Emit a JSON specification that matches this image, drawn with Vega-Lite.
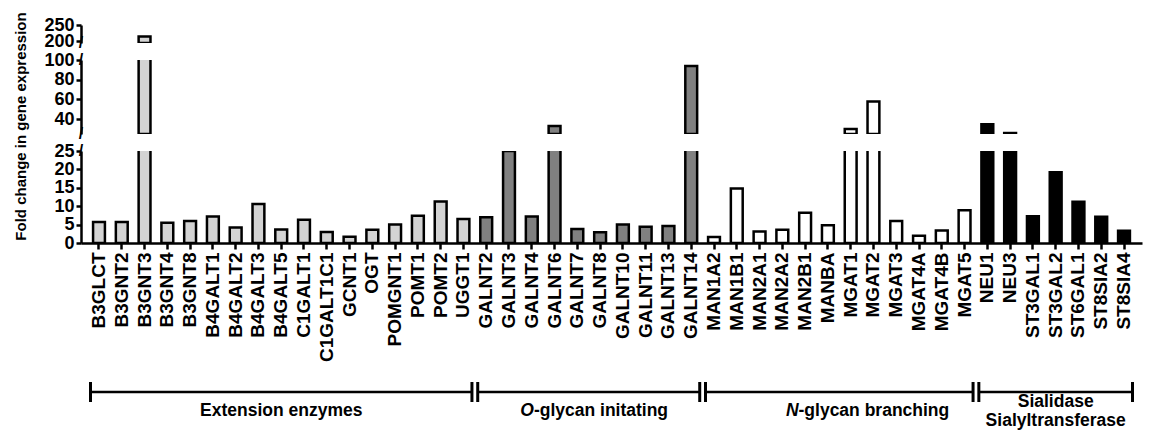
{
  "$schema": "https://vega.github.io/schema/vega-lite/v6.json",
  "padding": {"left": 13, "top": 11, "right": 5, "bottom": 0},
  "background": "white",
  "config": {
    "view": {"stroke": null},
    "axis": {
      "domainColor": "black", "domainWidth": 2.5, "tickColor": "black", "tickWidth": 2.5,
      "labelColor": "black", "labelFont": "Liberation Sans", "labelFontWeight": "bold", "labelFontSize": 18,
      "titleFont": "Liberation Sans", "titleFontWeight": "bold", "titleColor": "black", "grid": false,
      "tickSize": 5, "labelPadding": 2, "labelOverlap": false
    },
    "text": {"font": "Liberation Sans", "fontWeight": "bold", "color": "black", "fontSize": 17.5}
  },
  "datasets": {
    "genes": [
      {"gene": "B3GLCT", "group": "Extension", "value": 5.7},
      {"gene": "B3GNT2", "group": "Extension", "value": 5.7},
      {"gene": "B3GNT3", "group": "Extension", "value": 215},
      {"gene": "B3GNT4", "group": "Extension", "value": 5.5},
      {"gene": "B3GNT8", "group": "Extension", "value": 6.0},
      {"gene": "B4GALT1", "group": "Extension", "value": 7.2},
      {"gene": "B4GALT2", "group": "Extension", "value": 4.2},
      {"gene": "B4GALT3", "group": "Extension", "value": 10.6},
      {"gene": "B4GALT5", "group": "Extension", "value": 3.7},
      {"gene": "C1GALT1", "group": "Extension", "value": 6.3},
      {"gene": "C1GALT1C1", "group": "Extension", "value": 3.0},
      {"gene": "GCNT1", "group": "Extension", "value": 1.7},
      {"gene": "OGT", "group": "Extension", "value": 3.6},
      {"gene": "POMGNT1", "group": "Extension", "value": 5.0},
      {"gene": "POMT1", "group": "Extension", "value": 7.4},
      {"gene": "POMT2", "group": "Extension", "value": 11.3},
      {"gene": "UGGT1", "group": "Extension", "value": 6.5},
      {"gene": "GALNT2", "group": "O-glycan", "value": 7.0},
      {"gene": "GALNT3", "group": "O-glycan", "value": 25},
      {"gene": "GALNT4", "group": "O-glycan", "value": 7.2},
      {"gene": "GALNT6", "group": "O-glycan", "value": 33},
      {"gene": "GALNT7", "group": "O-glycan", "value": 3.8},
      {"gene": "GALNT8", "group": "O-glycan", "value": 2.9},
      {"gene": "GALNT10", "group": "O-glycan", "value": 5.0},
      {"gene": "GALNT11", "group": "O-glycan", "value": 4.4},
      {"gene": "GALNT13", "group": "O-glycan", "value": 4.6},
      {"gene": "GALNT14", "group": "O-glycan", "value": 94},
      {"gene": "MAN1A2", "group": "N-glycan", "value": 1.6},
      {"gene": "MAN1B1", "group": "N-glycan", "value": 14.8},
      {"gene": "MAN2A1", "group": "N-glycan", "value": 3.1},
      {"gene": "MAN2A2", "group": "N-glycan", "value": 3.6},
      {"gene": "MAN2B1", "group": "N-glycan", "value": 8.2},
      {"gene": "MANBA", "group": "N-glycan", "value": 4.8},
      {"gene": "MGAT1", "group": "N-glycan", "value": 30},
      {"gene": "MGAT2", "group": "N-glycan", "value": 58},
      {"gene": "MGAT3", "group": "N-glycan", "value": 6.0},
      {"gene": "MGAT4A", "group": "N-glycan", "value": 2.0},
      {"gene": "MGAT4B", "group": "N-glycan", "value": 3.4},
      {"gene": "MGAT5", "group": "N-glycan", "value": 8.9},
      {"gene": "NEU1", "group": "Sialic", "value": 35},
      {"gene": "NEU3", "group": "Sialic", "value": 26},
      {"gene": "ST3GAL1", "group": "Sialic", "value": 7.3},
      {"gene": "ST3GAL2", "group": "Sialic", "value": 19.2},
      {"gene": "ST6GAL1", "group": "Sialic", "value": 11.2},
      {"gene": "ST8SIA2", "group": "Sialic", "value": 7.1},
      {"gene": "ST8SIA4", "group": "Sialic", "value": 3.3}
    ],
    "groups": [
      {"first": "B3GLCT", "last": "UGGT1"},
      {"first": "GALNT2", "last": "GALNT14"},
      {"first": "MAN1A2", "last": "MGAT5"},
      {"first": "NEU1", "last": "ST8SIA4"}
    ]
  },
  "bounds": "flush",
  "spacing": 17,
  "vconcat": [
    {
      "width": 1061, "height": 18,
      "layer": [
        {
          "data": {"name": "genes"},
          "transform": [{"filter": "datum.value > 195"}],
          "mark": {"type": "bar", "clip": true, "stroke": "black", "strokeWidth": 2.5},
          "encoding": {
            "x": {"field": "gene", "type": "nominal", "sort": null, "axis": null,
              "scale": {"domain": ["B3GLCT","B3GNT2","B3GNT3","B3GNT4","B3GNT8","B4GALT1","B4GALT2","B4GALT3","B4GALT5","C1GALT1","C1GALT1C1","GCNT1","OGT","POMGNT1","POMT1","POMT2","UGGT1","GALNT2","GALNT3","GALNT4","GALNT6","GALNT7","GALNT8","GALNT10","GALNT11","GALNT13","GALNT14","MAN1A2","MAN1B1","MAN2A1","MAN2A2","MAN2B1","MANBA","MGAT1","MGAT2","MGAT3","MGAT4A","MGAT4B","MGAT5","NEU1","NEU3","ST3GAL1","ST3GAL2","ST6GAL1","ST8SIA2","ST8SIA4"], "paddingInner": 0.48, "paddingOuter": 0.53}},
            "y": {"field": "value", "type": "quantitative", "stack": null,
              "scale": {"domain": [195, 250], "zero": false, "nice": false},
              "axis": {"values": [200, 250], "title": null, "labelOverlap": false}},
            "color": {"field": "group", "type": "nominal", "legend": null,
              "scale": {"domain": ["Extension", "O-glycan", "N-glycan", "Sialic"], "range": ["#d3d3d3", "#808080", "#ffffff", "#000000"]}}
          }
        },
        {
          "data": {"values": [{"g": "B3GLCT", "v": 195}]},
          "mark": {"type": "text", "text": "/", "fontSize": 16, "dx": -12, "align": "center", "baseline": "middle"},
          "encoding": {
            "x": {"field": "g", "type": "nominal", "bandPosition": 0, "axis": null},
            "y": {"field": "v", "type": "quantitative", "axis": {"values": [200, 250], "title": null, "labelOverlap": false}}
          }
        }
      ]
    },
    {
      "width": 1061, "height": 74,
      "layer": [
        {
          "data": {"name": "genes"},
          "transform": [{"filter": "datum.value > 25"}],
          "mark": {"type": "bar", "clip": true, "stroke": "black", "strokeWidth": 2.5},
          "encoding": {
            "x": {"field": "gene", "type": "nominal", "sort": null, "axis": null,
              "scale": {"domain": ["B3GLCT","B3GNT2","B3GNT3","B3GNT4","B3GNT8","B4GALT1","B4GALT2","B4GALT3","B4GALT5","C1GALT1","C1GALT1C1","GCNT1","OGT","POMGNT1","POMT1","POMT2","UGGT1","GALNT2","GALNT3","GALNT4","GALNT6","GALNT7","GALNT8","GALNT10","GALNT11","GALNT13","GALNT14","MAN1A2","MAN1B1","MAN2A1","MAN2A2","MAN2B1","MANBA","MGAT1","MGAT2","MGAT3","MGAT4A","MGAT4B","MGAT5","NEU1","NEU3","ST3GAL1","ST3GAL2","ST6GAL1","ST8SIA2","ST8SIA4"], "paddingInner": 0.48, "paddingOuter": 0.53}},
            "y": {"field": "value", "type": "quantitative", "stack": null,
              "scale": {"domain": [25, 100], "zero": false, "nice": false},
              "axis": {"values": [40, 60, 80, 100], "labelOverlap": false, "title": "Fold change in gene expression", "titleFontSize": 15, "titleY": 66, "titlePadding": 15.3}},
            "color": {"field": "group", "type": "nominal", "legend": null,
              "scale": {"domain": ["Extension", "O-glycan", "N-glycan", "Sialic"], "range": ["#d3d3d3", "#808080", "#ffffff", "#000000"]}}
          }
        },
        {
          "data": {"values": [{"g": "B3GLCT", "v": 25}, {"g": "B3GLCT", "v": 100}]},
          "mark": {"type": "text", "text": "/", "fontSize": 16, "dx": -12, "align": "center", "baseline": "middle"},
          "encoding": {
            "x": {"field": "g", "type": "nominal", "bandPosition": 0, "axis": null},
            "y": {"field": "v", "type": "quantitative", "axis": {"values": [40, 60, 80, 100], "labelOverlap": false, "title": "Fold change in gene expression", "titleFontSize": 15, "titleY": 66, "titlePadding": 15.3}}
          }
        }
      ]
    },
    {
      "width": 1061, "height": 92,
      "layer": [
        {
          "data": {"name": "genes"},
          "mark": {"type": "bar", "clip": true, "stroke": "black", "strokeWidth": 2.5},
          "encoding": {
            "x": {"field": "gene", "type": "nominal", "sort": null,
              "axis": {"labelAngle": -90, "labelFontSize": 19, "tickSize": 6, "labelPadding": 3, "title": null, "labelOverlap": false},
              "scale": {"domain": ["B3GLCT","B3GNT2","B3GNT3","B3GNT4","B3GNT8","B4GALT1","B4GALT2","B4GALT3","B4GALT5","C1GALT1","C1GALT1C1","GCNT1","OGT","POMGNT1","POMT1","POMT2","UGGT1","GALNT2","GALNT3","GALNT4","GALNT6","GALNT7","GALNT8","GALNT10","GALNT11","GALNT13","GALNT14","MAN1A2","MAN1B1","MAN2A1","MAN2A2","MAN2B1","MANBA","MGAT1","MGAT2","MGAT3","MGAT4A","MGAT4B","MGAT5","NEU1","NEU3","ST3GAL1","ST3GAL2","ST6GAL1","ST8SIA2","ST8SIA4"], "paddingInner": 0.48, "paddingOuter": 0.53}},
            "y": {"field": "value", "type": "quantitative", "stack": null,
              "scale": {"domain": [0, 25], "nice": false},
              "axis": {"values": [0, 5, 10, 15, 20, 25], "title": null, "labelOverlap": false}},
            "color": {"field": "group", "type": "nominal", "legend": null,
              "scale": {"domain": ["Extension", "O-glycan", "N-glycan", "Sialic"], "range": ["#d3d3d3", "#808080", "#ffffff", "#000000"]}}
          }
        },
        {
          "data": {"values": [{"g": "B3GLCT", "v": 25}]},
          "mark": {"type": "text", "text": "/", "fontSize": 16, "dx": -12, "align": "center", "baseline": "middle"},
          "encoding": {
            "x": {"field": "g", "type": "nominal", "bandPosition": 0,
              "axis": {"labelAngle": -90, "labelFontSize": 19, "tickSize": 6, "labelPadding": 3, "title": null, "labelOverlap": false}},
            "y": {"field": "v", "type": "quantitative", "axis": {"values": [0, 5, 10, 15, 20, 25], "title": null, "labelOverlap": false}}
          }
        }
      ]
    },
    {
      "width": 1061, "height": 160,
      "data": {"name": "groups"},
      "layer": [
        {
          "mark": {"type": "rule", "color": "black", "strokeWidth": 2.5, "xOffset": -8.5, "x2Offset": 8.5},
          "encoding": {
            "x": {"field": "first", "type": "nominal", "axis": null,
              "scale": {"domain": ["B3GLCT","B3GNT2","B3GNT3","B3GNT4","B3GNT8","B4GALT1","B4GALT2","B4GALT3","B4GALT5","C1GALT1","C1GALT1C1","GCNT1","OGT","POMGNT1","POMT1","POMT2","UGGT1","GALNT2","GALNT3","GALNT4","GALNT6","GALNT7","GALNT8","GALNT10","GALNT11","GALNT13","GALNT14","MAN1A2","MAN1B1","MAN2A1","MAN2A2","MAN2B1","MANBA","MGAT1","MGAT2","MGAT3","MGAT4A","MGAT4B","MGAT5","NEU1","NEU3","ST3GAL1","ST3GAL2","ST6GAL1","ST8SIA2","ST8SIA4"], "paddingInner": 0.48, "paddingOuter": 0.53}},
            "x2": {"field": "last"},
            "y": {"datum": 132, "type": "quantitative", "axis": null, "scale": {"domain": [0, 160], "reverse": true, "nice": false}}
          }
        },
        {
          "mark": {"type": "rule", "color": "black", "strokeWidth": 3, "xOffset": -8.5},
          "encoding": {
            "x": {"field": "first", "type": "nominal", "axis": null},
            "y": {"datum": 122, "type": "quantitative", "axis": null},
            "y2": {"datum": 142}
          }
        },
        {
          "mark": {"type": "rule", "color": "black", "strokeWidth": 3, "xOffset": 8.5},
          "encoding": {
            "x": {"field": "last", "type": "nominal", "axis": null},
            "y": {"datum": 122, "type": "quantitative", "axis": null},
            "y2": {"datum": 142}
          }
        },
        {
          "data": {"values": [{"mid": "B4GALT5", "label": "Extension enzymes"}]},
          "mark": {"type": "text", "align": "center", "baseline": "middle"},
          "encoding": {
            "x": {"field": "mid", "type": "nominal", "axis": null},
            "y": {"datum": 151, "type": "quantitative", "axis": null},
            "text": {"field": "label"}
          }
        },
        {
          "data": {"values": [{"mid": "ST3GAL2", "label": ["Sialidase", "Sialyltransferase"]}]},
          "mark": {"type": "text", "align": "center", "baseline": "middle", "lineHeight": 19},
          "encoding": {
            "x": {"field": "mid", "type": "nominal", "axis": null},
            "y": {"datum": 142, "type": "quantitative", "axis": null},
            "text": {"field": "label"}
          }
        },
        {
          "data": {"values": [{"mid": "GALNT8", "label": "O"}]},
          "mark": {"type": "text", "align": "right", "baseline": "middle", "fontStyle": "italic", "dx": -60.3},
          "encoding": {
            "x": {"field": "mid", "type": "nominal", "bandPosition": 0, "axis": null},
            "y": {"datum": 151, "type": "quantitative", "axis": null},
            "text": {"field": "label"}
          }
        },
        {
          "data": {"values": [{"mid": "GALNT8", "label": "-glycan initating"}]},
          "mark": {"type": "text", "align": "left", "baseline": "middle", "dx": -60.3},
          "encoding": {
            "x": {"field": "mid", "type": "nominal", "bandPosition": 0, "axis": null},
            "y": {"datum": 151, "type": "quantitative", "axis": null},
            "text": {"field": "label"}
          }
        },
        {
          "data": {"values": [{"mid": "MGAT2", "label": "N"}]},
          "mark": {"type": "text", "align": "right", "baseline": "middle", "fontStyle": "italic", "dx": -69},
          "encoding": {
            "x": {"field": "mid", "type": "nominal", "bandPosition": 0, "axis": null},
            "y": {"datum": 151, "type": "quantitative", "axis": null},
            "text": {"field": "label"}
          }
        },
        {
          "data": {"values": [{"mid": "MGAT2", "label": "-glycan branching"}]},
          "mark": {"type": "text", "align": "left", "baseline": "middle", "dx": -69},
          "encoding": {
            "x": {"field": "mid", "type": "nominal", "bandPosition": 0, "axis": null},
            "y": {"datum": 151, "type": "quantitative", "axis": null},
            "text": {"field": "label"}
          }
        }
      ]
    }
  ]
}
